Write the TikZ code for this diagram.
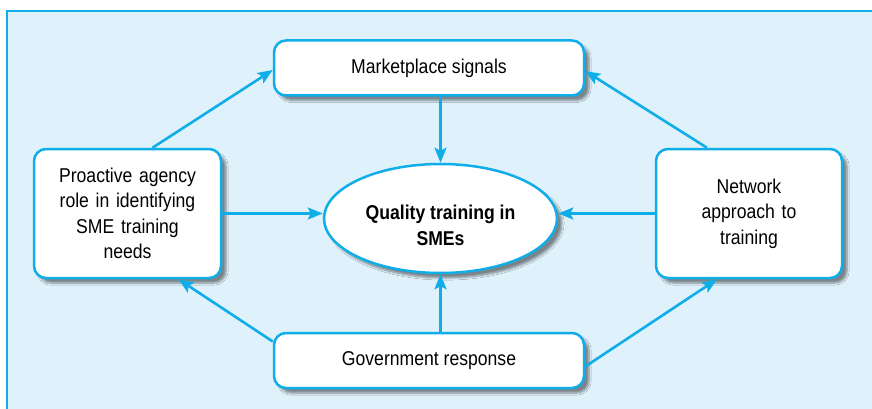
\documentclass[tikz,border=0pt]{standalone}
\usepackage{fontspec}
\setmainfont{Liberation Sans}[FakeStretch=0.88]
\usepackage{tikz}
\usetikzlibrary{arrows.meta, shapes, shadows.blur}
\definecolor{framecyan}{HTML}{0FAEE8}
\definecolor{panelblue}{HTML}{DFF1FB}
\tikzset{softshadow/.style={blur shadow={shadow xshift=5pt,shadow yshift=-5pt,shadow blur steps=6,shadow opacity=45}}}
\begin{document}
\begin{tikzpicture}[x=1pt,y=-1pt]
            \useasboundingbox (0,0) rectangle (872,409);
            \begin{scope}
                \clip (0,0) rectangle (872,409);
                \draw[framecyan, line width=2pt, fill=panelblue] (7,11) rectangle (890,430);
            \end{scope}

            \begin{scope}[every node/.style={rectangle,rounded corners=12pt,draw=framecyan,
                          line width=2.5pt,fill=white,align=center,
                          font=\fontsize{20}{25.5}\selectfont,softshadow}]
                \node[minimum width=310pt,minimum height=55pt] (market) at (429,68) {Marketplace signals};
                \node[minimum width=187pt,minimum height=129pt,text width=160pt] (proactive) at (127.5,213.5) {Proactive agency\\role in identifying\\SME training\\needs};
                \node[minimum width=186pt,minimum height=129pt,text width=160pt] (network) at (749,213.5) {Network\\approach to\\training};
                \node[minimum width=310pt,minimum height=55pt] (gov) at (429,360.5) {Government response};
                \node[ellipse,minimum width=233pt,minimum height=109pt] (quality) at (440.5,218.5) {};
            \end{scope}
            \node[align=center,font=\fontsize{20}{25.5}\selectfont\bfseries] (qualitytext) at ([yshift=-7pt]quality.center) {Quality training in\\SMEs};

            \begin{scope}[>={Stealth[length=15pt,width=12pt,inset=3pt]},
                          every edge/.style={draw=framecyan, line width=2.6pt}]
                \path[->] (market.south -| quality.north) edge (quality.north);
                \path[->] (gov.north -| quality.south) edge (quality.south);
                \path[->] (proactive.east) edge (proactive.east -| quality.west);
                \path[->] (network.west) edge (network.west -| quality.east);
                \path[->] ([xshift=25pt]proactive.north) edge ([yshift=-2pt]market.west);
                \path[->] ([xshift=-42pt]network.north) edge ([yshift=-3pt]market.east);
                \path[->] ([yshift=19pt]gov.west) edge ([xshift=51pt]proactive.south);
                \path[->] ([yshift=-6pt]gov.east) edge ([xshift=-32pt]network.south);
            \end{scope}
            \end{tikzpicture}
\end{document}
